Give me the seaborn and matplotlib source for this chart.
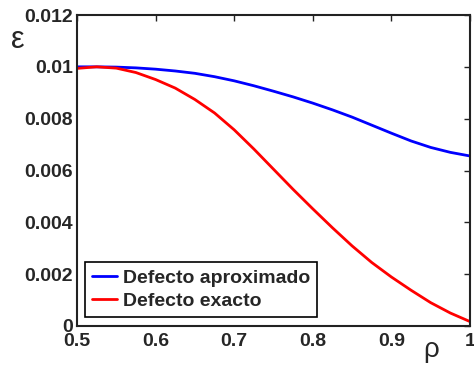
import matplotlib
matplotlib.use("Agg")
from matplotlib import pyplot as plt
import pandas as pd
import seaborn as sns

rho = [0.5, 0.525, 0.55, 0.575, 0.6, 0.625, 0.65, 0.675, 0.7, 0.725, 0.75,
       0.775, 0.8, 0.825, 0.85, 0.875, 0.9, 0.925, 0.95, 0.975, 1.0]
aprox = [0.0100, 0.0100, 0.00999, 0.00996, 0.00991, 0.00984, 0.00975, 0.00962,
         0.00946, 0.00927, 0.00906, 0.00884, 0.0086, 0.00834, 0.00806, 0.00775,
         0.00744, 0.00714, 0.00689, 0.00670, 0.00656]
exacto = [0.00994, 0.0100, 0.00995, 0.00978, 0.00951, 0.00918, 0.00874, 0.00822,
          0.00757, 0.00683, 0.00605, 0.00527, 0.00452, 0.00379, 0.00309, 0.00245,
          0.00189, 0.00138, 0.0009, 0.0005, 0.00017]

df = pd.DataFrame({
    'rho': rho + rho,
    'eps': aprox + exacto,
    'serie': ['Defecto aproximado'] * len(rho) + ['Defecto exacto'] * len(rho),
})

sns.set_style('white')
plt.rcParams['font.family'] = ['Liberation Sans', 'DejaVu Sans']
plt.rcParams['font.weight'] = 'bold'

fig = plt.figure(figsize=(4.74, 3.66), dpi=100)
ax = fig.add_axes([0.1624, 0.1093, 0.8292, 0.8497])
sns.lineplot(data=df, x='rho', y='eps', hue='serie',
             palette={'Defecto aproximado': '#0000ff', 'Defecto exacto': '#ff0000'},
             linewidth=2, ax=ax)

ax.set_xlim(0.5, 1)
ax.set_ylim(0, 0.012)
ax.set_xticks([0.5, 0.6, 0.7, 0.8, 0.9, 1.0])
ax.set_xticklabels(['0.5', '0.6', '0.7', '0.8', '0.9', '1'])
ax.set_yticks([0, 0.002, 0.004, 0.006, 0.008, 0.01, 0.012])
ax.set_yticklabels(['0', '0.002', '0.004', '0.006', '0.008', '0.01', '0.012'])
ax.tick_params(direction='in', length=4, width=1, top=True, right=True,
               labelsize=14, color='#222222')
ax.tick_params(axis='x', pad=5)
ax.tick_params(axis='y', pad=3)
for lab in ax.get_xticklabels() + ax.get_yticklabels():
    lab.set_fontweight('bold')
for s in ax.spines.values():
    s.set_linewidth(1.5)
    s.set_color('#222222')
ax.set_xlabel('')
ax.set_ylabel('')

fig.text(18 / 474, 1 - 40 / 366, 'ε', fontsize=22, ha='center', va='center',
         fontweight='normal')
fig.text(431 / 474, 1 - 350 / 366, 'ρ', fontsize=20, ha='center', va='center',
         fontweight='normal')

leg = ax.legend(loc='lower left', bbox_to_anchor=(0.02, 0.029), borderaxespad=0,
                fancybox=False, framealpha=1, edgecolor='black', handlelength=1.3,
                handletextpad=0.3, borderpad=0.35, labelspacing=0.3,
                prop={'size': 14, 'weight': 'bold'})
leg.get_frame().set_linewidth(1.2)

fig.savefig('out.png', dpi=100)
